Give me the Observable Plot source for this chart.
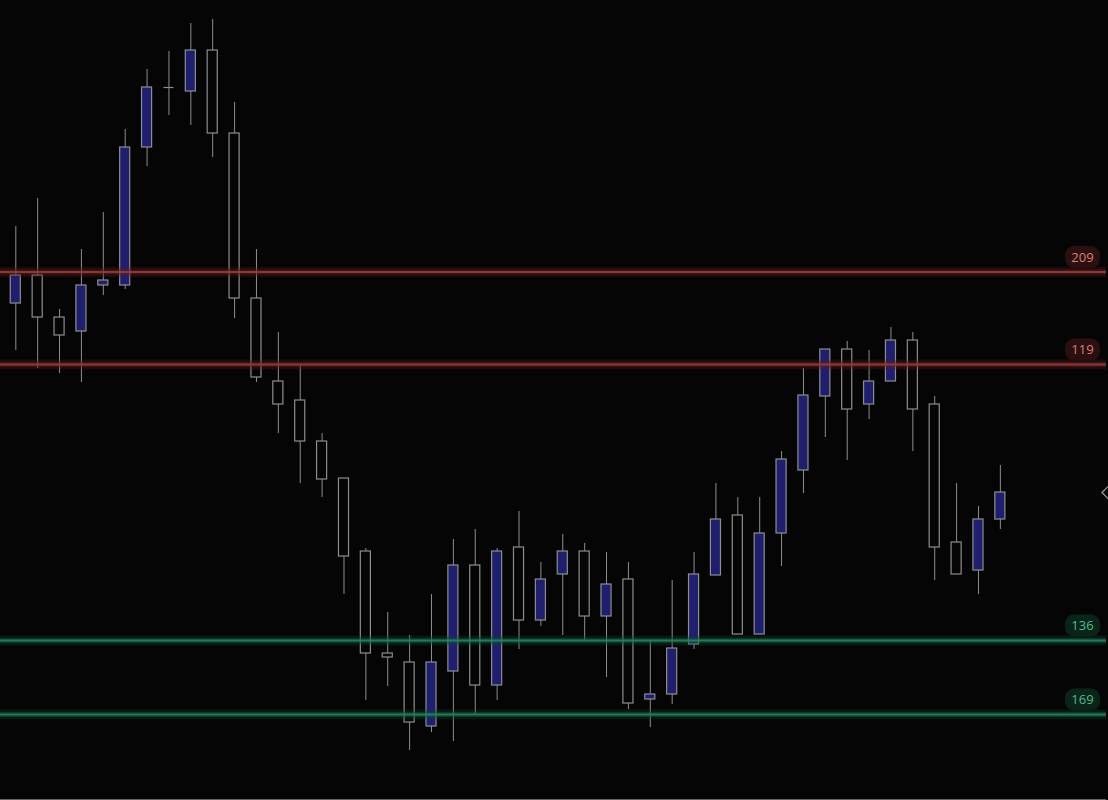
<!DOCTYPE html>
<html>
<head>
<meta charset="utf-8">
<script src="https://cdn.jsdelivr.net/npm/d3@7"></script>
<script src="https://cdn.jsdelivr.net/npm/@observablehq/plot@0.6"></script>
<style>
  html, body { margin: 0; padding: 0; background: #050505; overflow: hidden; }
  #chart svg { display: block; background: #050505; }
</style>
</head>
<body>
<div id="chart"></div>
<script>
// ---- data (price units) ----
const opens  = [149.7,152.5,148.3,146.9,151.5,151.5,165.3,171.3,170.9,175.0,166.7,150.2,141.9,140.0,135.9,132.2,124.9,114.7,113.8,107.4,112.9,123.5,111.5,125.3,118.0,122.6,124.9,118.4,122.1,110.1,110.6,115.6,122.5,128.5,116.6,126.7,133.0,140.4,145.1,139.6,141.9,146.0,139.6,125.8,123.0,128.1];
const highs  = [157.4,160.2,149.1,155.1,158.8,167.1,173.1,174.9,177.7,178.1,169.8,155.1,146.8,143.6,136.7,132.2,125.2,118.8,116.5,120.6,126.1,127.1,125.2,128.9,123.8,126.6,125.7,124.8,123.8,116.0,122.0,124.8,131.7,130.3,130.3,134.9,143.2,145.1,145.9,145.0,147.3,146.8,140.4,131.7,129.4,133.5];
const lows   = [145.0,143.2,142.7,141.8,150.5,151.1,163.4,168.5,167.5,164.3,148.2,141.8,136.7,131.7,130.3,120.6,110.0,111.4,105.0,106.8,105.9,108.6,110.0,115.1,117.4,116.5,116.0,112.3,109.1,107.3,109.6,115.1,122.5,116.6,116.6,123.4,130.7,136.3,134.0,138.1,141.9,134.9,122.0,122.6,120.6,127.1];
const closes = [152.5,148.3,146.5,151.5,152.0,165.3,171.3,171.3,175.0,166.7,150.2,142.3,139.6,135.9,132.1,124.4,114.7,114.3,107.8,113.8,123.5,111.5,124.9,118.0,122.1,124.9,118.4,121.6,109.7,110.6,115.2,122.6,128.1,116.6,126.7,134.1,140.5,145.1,139.1,141.9,146.0,139.1,125.3,122.6,128.1,130.8];

const levelValues = [152.85, 143.6, 116.0, 108.6];
const levelLabels = ["209", "119", "136", "169"];
const levelKinds  = ["resistance", "resistance", "support", "support"];

// ---- tables built from the arrays ----
const candles = opens.map((o, i) => ({i, open: o, high: highs[i], low: lows[i], close: closes[i]}));
const levels = levelValues.map((v, k) => ({value: v, label: levelLabels[k], kind: levelKinds[k]}));
const resist = levels.filter(d => d.kind === "resistance");
const support = levels.filter(d => d.kind === "support");
const last = [candles[candles.length - 1]];

// ---- styles ----
const WICK = "#8e8e8e";
const UP_FILL = "#1f1f6e";
const BG = "#050505";
const RED = {outer: "#5a1a1a", mid: "#6e2222", core: "#a04444", txt: "#e07e6c", bg: "#2a1010"};
const GRN = {outer: "#0e4a32", mid: "#13603f", core: "#26946a", txt: "#4dbd8a", bg: "#0a2419"};

const pill = {
  draw(ctx) {
    const w = 17, h = 10.5, r = 9;
    ctx.moveTo(-w + r, -h);
    ctx.lineTo(w - r, -h);
    ctx.arcTo(w, -h, w, 0, r);
    ctx.arcTo(w, h, w - r, h, r);
    ctx.lineTo(-w + r, h);
    ctx.arcTo(-w, h, -w, 0, r);
    ctx.arcTo(-w, -h, -w + r, -h, r);
    ctx.closePath();
  }
};
const chevron = {
  draw(ctx) {
    ctx.moveTo(9, -9);
    ctx.lineTo(0, 0);
    ctx.lineTo(9, 9);
  }
};

function glow(data, c) {
  return [
    Plot.ruleY(data, {y: "value", stroke: c.outer, strokeWidth: 10, strokeOpacity: 0.3}),
    Plot.ruleY(data, {y: "value", stroke: c.mid, strokeWidth: 5, strokeOpacity: 0.45}),
    Plot.ruleY(data, {y: "value", stroke: c.core, strokeWidth: 2, strokeOpacity: 0.75})
  ];
}
function tag(data, c) {
  return [
    Plot.dot(data, {y: "value", frameAnchor: "right", dx: -24, dy: -15, symbol: pill, r: 10, fill: c.bg, stroke: c.bg, strokeOpacity: 0.9}),
    Plot.text(data, {y: "value", text: "label", frameAnchor: "right", dx: -24, dy: -14.5, fill: c.txt, fontSize: 13, fontFamily: "Open Sans, Noto Sans, sans-serif", textAnchor: "middle"})
  ];
}

const chart = Plot.plot({
  width: 1108,
  height: 800,
  marginTop: 0,
  marginBottom: 0,
  marginLeft: 0,
  marginRight: 2,
  style: {background: BG},
  x: {type: "band", domain: d3.range(candles.length), range: [4.36, 1010.8], paddingInner: 0.54, paddingOuter: 0.27, axis: null},
  y: {domain: [100, 180], axis: null},
  marks: [
    Plot.ruleX(candles, {x: "i", y1: "low", y2: "high", stroke: WICK, strokeWidth: 1}),
    Plot.barY(candles, {filter: d => d.close > d.open, x: "i", y1: "open", y2: "close", fill: UP_FILL, stroke: WICK, strokeWidth: 1.2}),
    Plot.barY(candles, {filter: d => d.close < d.open, x: "i", y1: "open", y2: "close", fill: BG, stroke: WICK, strokeWidth: 1.2}),
    Plot.tickY(candles, {filter: d => d.close === d.open, x: "i", y: "close", stroke: WICK, strokeWidth: 1.2}),
    ...glow(resist, RED),
    ...glow(support, GRN),
    ...tag(resist, RED),
    ...tag(support, GRN),
    Plot.dot(last, {y: "close", frameAnchor: "right", dx: -4.5, symbol: chevron, r: 8, fill: "none", stroke: "#a0a0a0", strokeWidth: 1.2}),
    Plot.ruleY([100], {stroke: "#c8c8c8", strokeWidth: 1, dy: -0.5})
  ]
});
document.getElementById("chart").appendChild(chart);
</script>
</body>
</html>
